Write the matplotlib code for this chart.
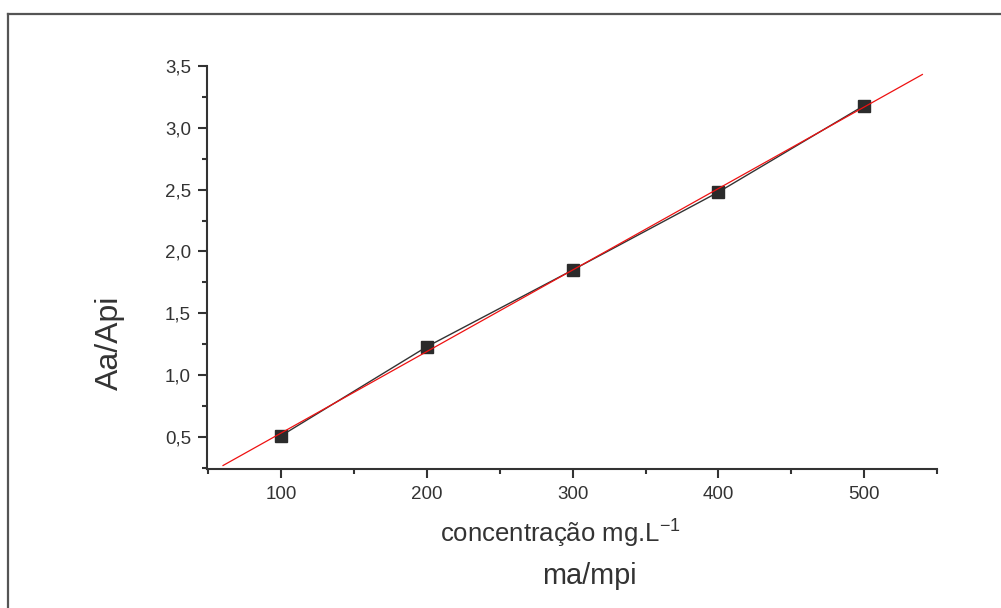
import numpy as np
import matplotlib
matplotlib.use("Agg")
import matplotlib.pyplot as plt
from matplotlib.lines import Line2D
from matplotlib.ticker import MultipleLocator, FixedLocator

# =========================
# DATA
# =========================
conc = [100, 200, 300, 400, 500]
ratio = [0.51, 1.23, 1.85, 2.48, 3.18]
fit_range = [60, 540]

x_ticks = [100, 200, 300, 400, 500]
x_labels = ["100", "200", "300", "400", "500"]
y_ticks = [0.5, 1.0, 1.5, 2.0, 2.5, 3.0, 3.5]
y_labels = ["0,5", "1,0", "1,5", "2,0", "2,5", "3,0", "3,5"]

TXT = "#333333"
plt.rcParams["font.family"] = ["Liberation Sans", "DejaVu Sans"]
plt.rcParams["mathtext.fontset"] = "custom"
plt.rcParams["mathtext.rm"] = "Liberation Sans"

# =========================
# FIGURE
# =========================
fig = plt.figure(figsize=(10.01, 6.08), dpi=100)
ax = fig.add_axes([0.2068, 0.2286, 0.7292, 0.6628])

# linear fit
slope, intercept = np.polyfit(conc, ratio, 1)
fx = np.array(fit_range)
ax.plot(conc, ratio, color="#333333", lw=1.0, zorder=2)
ax.plot(conc, ratio, ls="none", marker="s", ms=8.4, color="#2b2b2b", zorder=3)
ax.plot(fx, slope * fx + intercept, color="#ee1111", lw=0.9, zorder=4)

ax.set_xlim(49, 550)
ax.set_ylim(0.24, 3.5)

ax.xaxis.set_major_locator(FixedLocator(x_ticks))
ax.set_xticklabels(x_labels)
ax.xaxis.set_minor_locator(MultipleLocator(50))
ax.yaxis.set_major_locator(FixedLocator(y_ticks))
ax.set_yticklabels(y_labels)
ax.yaxis.set_minor_locator(MultipleLocator(0.25))

for s in ["top", "right"]:
    ax.spines[s].set_visible(False)
for s in ["left", "bottom"]:
    ax.spines[s].set_linewidth(1.5)
    ax.spines[s].set_color(TXT)

ax.tick_params(which="major", direction="out", length=6.5, width=1.5,
               color=TXT, labelcolor=TXT, labelsize=13.5)
ax.tick_params(axis="x", which="major", pad=6)
ax.tick_params(axis="y", which="major", pad=5)
ax.tick_params(which="minor", direction="out", length=3.6, width=1.5, color=TXT)

# axis titles
fig.text(0.110, 0.436, "Aa/Api", fontsize=23, color=TXT, rotation=90,
         ha="center", va="center")
fig.text(0.4395, 0.1086, "concentração mg.L$^{\\mathrm{-1}}$", fontsize=18.5,
         color=TXT, ha="left", va="baseline")
fig.text(0.589, 0.0395, "ma/mpi", fontsize=20.8, color=TXT,
         ha="center", va="baseline")

# outer frame (top and left edges)
fig.add_artist(Line2D([0.008, 1.0], [0.977, 0.977], color="#555555", lw=1.6,
                      transform=fig.transFigure))
fig.add_artist(Line2D([0.008, 0.008], [0.0, 0.977], color="#555555", lw=1.6,
                      transform=fig.transFigure))

fig.savefig("out.png", dpi=100)
